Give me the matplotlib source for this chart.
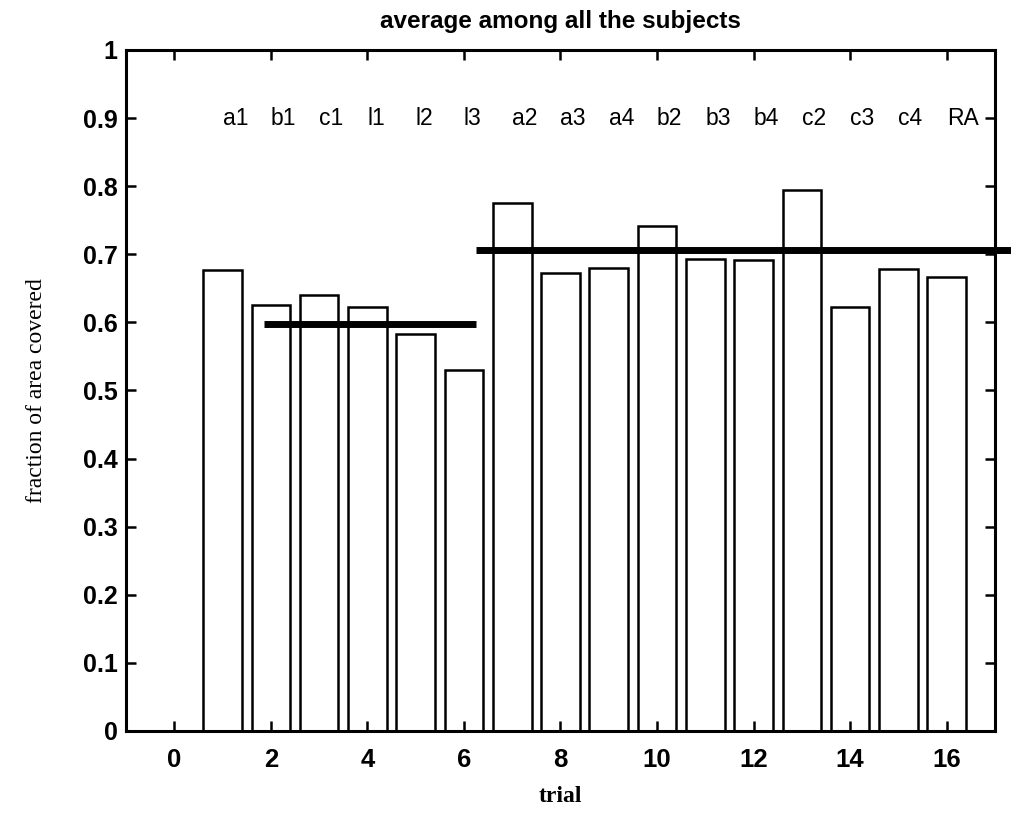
#! -*- coding: utf-8 -*-

#---------------------------------
# モジュールのインポート
#---------------------------------
import numpy as np
import matplotlib
matplotlib.use('Agg')
import matplotlib.pyplot as plt

#---------------------------------
# データ定義
#---------------------------------
trial = np.arange(1, 17)
conditions = ['a1', 'b1', 'c1', 'l1', 'l2', 'l3', 'a2', 'a3',
			'a4', 'b2', 'b3', 'b4', 'c2', 'c3', 'c4', 'RA']
fraction = [0.677, 0.626, 0.640, 0.622, 0.583, 0.530, 0.775, 0.672,
			0.680, 0.741, 0.693, 0.692, 0.795, 0.623, 0.679, 0.667]

# 平均線 (x開始, x終了, y)
mean_lines = [(1.85, 6.25, 0.598), (6.25, 17.35, 0.706)]

xticks = np.arange(0, 17, 2)
yticks = np.round(np.arange(0, 1.01, 0.1), 1)

SANS = ['Liberation Sans', 'DejaVu Sans']
SERIF = ['Liberation Serif', 'DejaVu Serif']

#---------------------------------
# メイン処理
#---------------------------------
def main():
	fig = plt.figure(figsize=(10.11, 8.14), dpi=100)
	ax = fig.add_axes([0.1246, 0.102, 0.8596, 0.8366])

	# --- 棒グラフ ---
	ax.bar(trial, fraction, width=0.8, color='white', edgecolor='black', linewidth=1.8)

	# --- 平均線 ---
	for x0, x1, y in mean_lines:
		ax.plot([x0, x1], [y, y], color='black', linewidth=5, solid_capstyle='butt', clip_on=False)

	# --- 条件ラベル ---
	for x, name in zip(trial, conditions):
		ax.text(x, 0.9, name, ha='left', va='center', fontsize=16.5, family=SANS)

	ax.set_xlim(-1, 17)
	ax.set_ylim(0, 1)
	ax.set_xticks(xticks)
	ax.set_yticks(yticks)
	ax.set_xticklabels([str(v) for v in xticks], fontsize=18.5, fontweight='bold', family=SANS)
	ax.set_yticklabels(['0' if v == 0 else ('1' if v == 1 else '%.1f' % v) for v in yticks],
				fontsize=18, fontweight='bold', family=SANS)
	ax.tick_params(direction='in', length=7, width=1.8, top=True, right=True)
	ax.tick_params(axis='x', pad=12)
	ax.tick_params(axis='y', pad=6)
	for sp in ax.spines.values():
		sp.set_linewidth(2.2)

	ax.set_xlabel('trial', fontsize=17, fontweight='bold', family=SERIF, labelpad=10)
	ax.set_ylabel('fraction of area covered', fontsize=17, family=SERIF, labelpad=26)
	ax.set_title('average among all the subjects', fontsize=17.5, fontweight='bold',
				family=SANS, pad=16)

	fig.savefig('out.png', dpi=100)
	plt.close(fig)

	return

if __name__ == '__main__':
	main()
